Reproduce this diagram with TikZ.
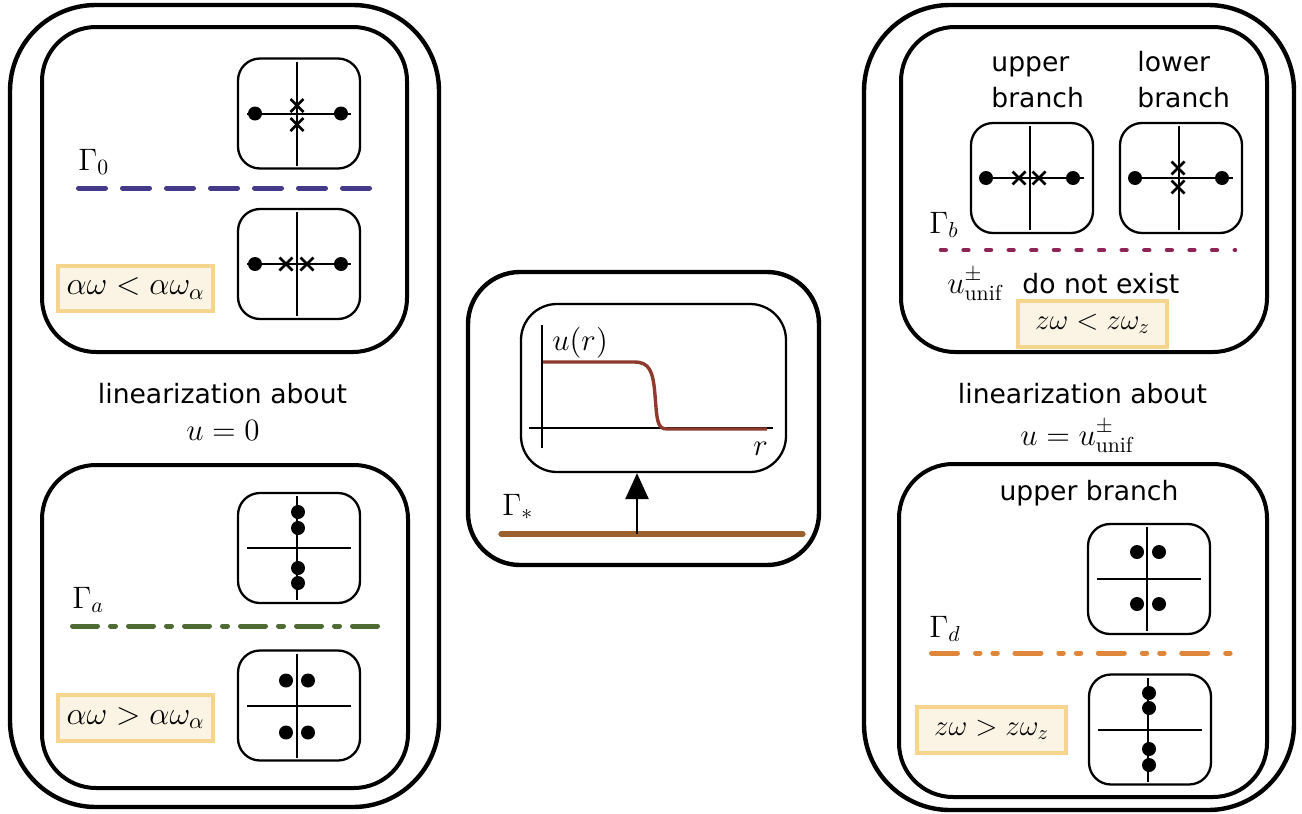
\RequirePackage{fix-cm}
\documentclass[tikz,border=0pt]{standalone}
\usepackage{fontspec}
\setsansfont{DejaVu Sans}
\usetikzlibrary{arrows.meta}
\definecolor{condfill}{HTML}{FBF4E4}
\definecolor{condborder}{HTML}{F5D58E}
\definecolor{gzero}{HTML}{45398A}
\definecolor{ga}{HTML}{4E6B33}
\definecolor{gb}{HTML}{8E2456}
\definecolor{gd}{HTML}{E0863A}
\definecolor{gs}{HTML}{9B602D}
\definecolor{ucurve}{HTML}{8E3A2C}
\tikzset{
  outerbox/.style={draw, line width=2.2pt, rounded corners=43pt},
  panelbox/.style={draw, line width=2pt, rounded corners=27pt},
  planebox/.style={draw, line width=1.15pt, rounded corners=11pt},
  axisline/.style={line width=1pt},
  crossmark/.style={line width=1.35pt},
  condbox/.style={draw=condborder, fill=condfill, line width=2pt, inner sep=0pt},
  lbl/.style={font=\fontsize{13.3}{16}\selectfont\sffamily, inner sep=0pt},
  mth/.style={font=\fontsize{15.5}{18}\selectfont, inner sep=0pt},
  gline/.style={line width=2.5pt, line cap=round},
  plane/.pic={
    \draw[planebox] (-61,-55) rectangle (61,55);
    \draw[axisline] (-2,-52) -- (-2,52) (-52,0) -- (52,0);
  },
  xmark/.pic={\draw[crossmark] (-6.5,-6.5) -- (6.5,6.5) (-6.5,6.5) -- (6.5,-6.5);},
  pole/.pic={\fill (0,0) circle[radius=3.5pt];}
}
\begin{document}
\begin{tikzpicture}[x=0.5pt, y=-0.5pt]
\useasboundingbox (0,0) rectangle (1302,814);

% ---------------- left column ----------------
\draw[outerbox] (10,5) rectangle (439,807);
\draw[panelbox] (42,27) rectangle (407,352);
\draw[panelbox] (42,465) rectangle (408,788);

% box 1: poles on real axis, crosses on imaginary axis
\begin{scope}[shift={(299,113.5)}]
  \pic{plane};
  \pic at (-44,0) {pole}; \pic at (42,0) {pole};
  \pic at (-2,-8) {xmark}; \pic at (-2,11) {xmark};
\end{scope}
\node[mth, anchor=base west] (g0) at (78,170) {$\Gamma_0$};
\draw[gline, gzero, dash pattern=on 13.5pt off 8.5pt] (78.5,188) -- (375,188);
% box 2
\begin{scope}[shift={(299,264)}]
  \pic{plane};
  \pic at (-44,0) {pole}; \pic at (42,0) {pole};
  \pic at (-13,0) {xmark}; \pic at (8,0) {xmark};
\end{scope}
\node[condbox, minimum width=77.5pt, minimum height=22.5pt] (c1) at (135.5,288.5) {};
\node[font=\fontsize{16}{19}\selectfont, inner sep=0pt] (c1t) at (c1) {$\alpha\omega<\alpha\omega_\alpha$};

\node[lbl, anchor=base] (lin1) at (222.5,403) {linearization about};
\node[mth, anchor=base] (u0) at (223,440) {$u=0$};

% box 3
\begin{scope}[shift={(299,548)}]
  \pic{plane};
  \pic at (-1,-36) {pole}; \pic at (-1,-20) {pole};
  \pic at (-1,20) {pole}; \pic at (-1,35) {pole};
\end{scope}
\node[mth, anchor=base west] (ga) at (72,608) {$\Gamma_a$};
\draw[gline, ga, dash pattern=on 12.5pt off 6.5pt on 2.5pt off 6.5pt] (72.5,626) -- (378,626);
% box 4
\begin{scope}[shift={(299,705.5)}]
  \pic{plane};
  \pic at (-13,-25) {pole}; \pic at (9,-25) {pole};
  \pic at (-13,27) {pole}; \pic at (9,27) {pole};
\end{scope}
\node[condbox, minimum width=77.5pt, minimum height=23pt] (c2) at (135.5,718) {};
\node[font=\fontsize{16}{19}\selectfont, inner sep=0pt] (c2t) at (c2) {$\alpha\omega>\alpha\omega_\alpha$};

% ---------------- centre ----------------
\draw[outerbox, rounded corners=26pt] (468,272) rectangle (819,565);
\node[draw, line width=1.15pt, rounded corners=18pt, minimum width=132.5pt, minimum height=84pt, inner sep=0pt] (ubox) at (653.5,388) {};
\draw[axisline] (542,325) -- (542,448);
\draw[axisline] (529,428) -- (773,428);
\draw[ucurve, line width=1.7pt] (543,362) -- (634,362) .. controls (649,362) and (653,370) .. (655,395) .. controls (657,420) and (657,429) .. (667,429) -- (767,429);
\node[mth, anchor=base west] (ur) at (552,350) {$u(r)$};
\node[mth, anchor=base west] (rr) at (753,455) {$r$};
\node[mth, anchor=base west] (gsl) at (502,515) {$\Gamma_*$};
\coordinate (gsL) at (501,534);
\coordinate (gsR) at (803,534);
\draw[gs, line width=2.6pt, line cap=round] (gsL) -- (gsR);
\coordinate (arrbase) at (637,534);
\draw[line width=1.3pt, -{Triangle[length=13pt,width=11.5pt]}] (arrbase) -- (arrbase |- ubox.south);

% ---------------- right column ----------------
\draw[outerbox] (864,5) rectangle (1294,810);
\draw[panelbox] (901,27) rectangle (1267,352);
\draw[panelbox] (899,464) rectangle (1267,797);

\node[lbl, anchor=base west] (up1) at (991,71) {upper};
\node[lbl, anchor=base west] (up2) at (991,107) {branch};
\node[lbl, anchor=base west] (lo1) at (1137,71) {lower};
\node[lbl, anchor=base west] (lo2) at (1137,107) {branch};
% box b1
\begin{scope}[shift={(1032,178)}]
  \pic{plane};
  \pic at (-46,0) {pole}; \pic at (41,0) {pole};
  \pic at (-13,0) {xmark}; \pic at (7,0) {xmark};
\end{scope}
% box b2
\begin{scope}[shift={(1181,178)}]
  \pic{plane};
  \pic at (-46,0) {pole}; \pic at (41,0) {pole};
  \pic at (-3,-10) {xmark}; \pic at (-3,9) {xmark};
\end{scope}
\node[mth, anchor=base west] (gbl) at (929,233) {$\Gamma_b$};
\draw[gb, line width=2.3pt, line cap=round, dash pattern=on 2.35pt off 8.95pt] (941,250) -- (1235,250);
\node[mth, anchor=base west] (uu) at (947,293) {$u^{\pm}_{\mathrm{unif}}$};
\node[lbl, anchor=base west] (dne) at (1022,293) {do not exist};
\node[condbox, minimum width=74.5pt, minimum height=23pt] (c3) at (1092.5,324) {};
\node[font=\fontsize{14.5}{17}\selectfont, inner sep=0pt] (c3t) at (c3) {$z\omega<z\omega_z$};

\node[lbl, anchor=base] (lin2) at (1082.5,403) {linearization about};
\node[mth, anchor=base] (uun) at (1077,445) {$u=u^{\pm}_{\mathrm{unif}}$};

\node[lbl, anchor=base] (ub) at (1089,500) {upper branch};
% box d1
\begin{scope}[shift={(1149,579)}]
  \pic{plane};
  \pic at (-12,-27) {pole}; \pic at (10,-27) {pole};
  \pic at (-12,25) {pole}; \pic at (10,25) {pole};
\end{scope}
\node[mth, anchor=base west] (gdl) at (929,637) {$\Gamma_d$};
\draw[gd, gline, dash pattern=on 13pt off 9pt on 2.2pt off 6.5pt on 2.2pt off 8.8pt] (931.5,653) -- (1234,653);
% box d2
\begin{scope}[shift={(1150,729.5)}]
  \pic{plane};
  \pic at (-1,-36.5) {pole}; \pic at (-1,-21.5) {pole};
  \pic at (-1,19.5) {pole}; \pic at (-1,35.5) {pole};
\end{scope}
\node[condbox, minimum width=74.5pt, minimum height=23pt] (c4) at (991.5,730) {};
\node[font=\fontsize{14.5}{17}\selectfont, inner sep=0pt] (c4t) at (c4) {$z\omega>z\omega_z$};
\end{tikzpicture}
\end{document}
